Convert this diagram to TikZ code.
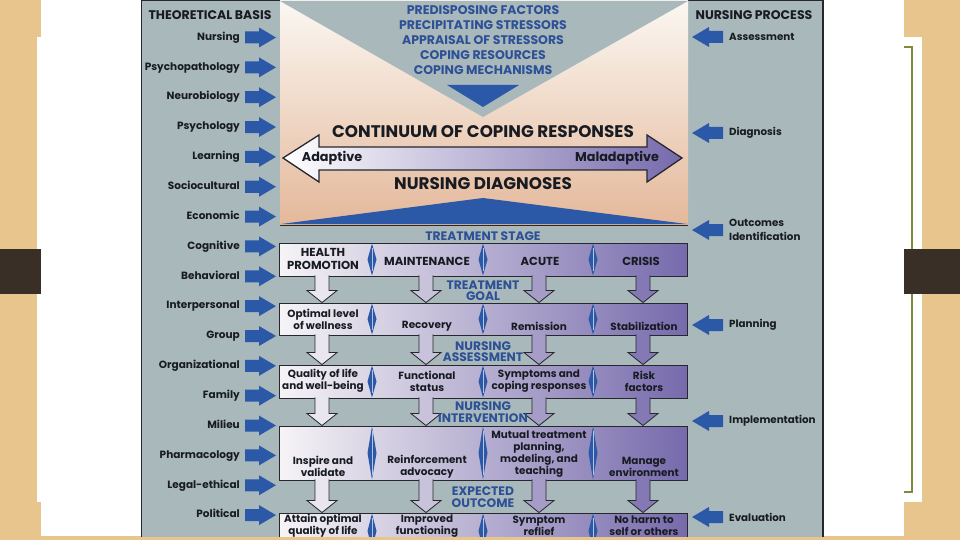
\documentclass[tikz,border=0pt]{standalone}
\usepackage{fontspec}
\setmainfont{Poppins}
\usepackage{tikz}
\usetikzlibrary{positioning,calc}
\definecolor{cWood}{RGB}{232,197,140}
\definecolor{cBand}{RGB}{58,47,39}
\definecolor{cFrame}{RGB}{125,139,60}
\definecolor{cPanel}{RGB}{168,184,187}
\definecolor{cEdge}{RGB}{38,40,46}
\definecolor{cBlue}{RGB}{44,88,168}
\definecolor{cLabel}{RGB}{46,80,150}
\definecolor{cPeachT}{RGB}{251,247,242}
\definecolor{cPeachB}{RGB}{228,184,154}
\definecolor{cRowL}{RGB}{246,244,246}
\definecolor{cRowR}{RGB}{118,106,172}
\definecolor{cText}{RGB}{24,27,34}

\begin{document}
\begin{tikzpicture}[x=1pt,y=-1pt,
   basis/.style={anchor=east,inner sep=0pt,text height=8pt,text depth=2.5pt,font=\fontsize{10.5}{12}\selectfont\bfseries,text=cText},
   proc/.style={anchor=west,inner sep=0pt,align=left,font=\fontsize{10.3}{14.5}\selectfont\bfseries,text=cText},
   head/.style={inner sep=0pt,font=\fontsize{12.5}{14}\selectfont\bfseries,text=cText},
   factor/.style={inner sep=0pt,font=\fontsize{12.5}{14}\selectfont\bfseries,text=cLabel},
   big/.style={inner sep=0pt,font=\fontsize{16.8}{18}\selectfont\bfseries,text=cText},
   tip/.style={inner sep=0pt,font=\fontsize{12.8}{14}\selectfont\bfseries,text=cText},
   row/.style={draw=cEdge,line width=0.9pt,left color=cRowL,right color=cRowR,minimum width=408pt,inner sep=0pt},
   cell/.style={align=center,inner sep=0pt,font=\fontsize{10.4}{12}\selectfont\bfseries,text=cText},
   caps/.style={cell,font=\fontsize{11.6}{12.5}\selectfont\bfseries},
   stage/.style={align=center,inner sep=0pt,font=\fontsize{12.3}{11.5}\selectfont\bfseries,text=cLabel},
   pics/rarr/.style={code={\fill[cBlue] (0,-6) -- (14,-6) -- (14,-10) -- (31,0) -- (14,10) -- (14,6) -- (0,6) -- cycle;}},
   pics/larr/.style={code={\fill[cBlue] (0,-6) -- (-14,-6) -- (-14,-10) -- (-31,0) -- (-14,10) -- (-14,6) -- (0,6) -- cycle;}}]
  \useasboundingbox (0,0) rectangle (960,540);
  % slide behind the picture
  \fill[cWood] (0,0) rectangle (960,540);
  \fill[white] (37,37) rectangle (922,502);
  \draw[cFrame,line width=1.6pt] (60,47) rectangle (912,492);
  \fill[cBand] (0,249) rectangle (41,294);
  \fill[cBand] (904,249) rectangle (960,294);
  \fill[white] (41,0) rectangle (904,536);
  \begin{scope}
    \clip (141,0) rectangle (824,536);
    \draw[cEdge,line width=1.2pt,fill=cPanel] (141,0.6) rectangle (823,560);
    % coping area
    \fill[top color=cPeachT,bottom color=cPeachB] (280,1) rectangle (688,225);
    \fill[cPanel] (280,1) -- (688,1) -- (483,117) -- cycle;
    \fill[cBlue] (447,85) -- (519,85) -- (483,107) -- cycle;
    \fill[cBlue] (281,224) -- (483,198) -- (687,224) -- cycle;
    \draw[cEdge,line width=1pt] (280,225) -- (688,225);
    \foreach \t [count=\i] in {PREDISPOSING FACTORS,PRECIPITATING STRESSORS,APPRAISAL OF STRESSORS,COPING RESOURCES,COPING MECHANISMS}
      \node[factor] (f\i) at (483,{-5+15*\i}) {\t};
    \node[big] (cont) at (483,132) {CONTINUUM OF COPING RESPONSES};
    \draw[cEdge,line width=1.3pt,left color=white,right color=cRowR]
      (283,158) -- (319,135) -- (319,147) -- (647,147) -- (647,135) -- (682,158)
      -- (647,182) -- (647,170) -- (319,170) -- (319,182) -- cycle;
    \node[tip] (adp) at (332,158) {Adaptive};
    \node[tip] (mal) at (617,158) {Maladaptive};
    \node[big] (diag) at (483,184) {NURSING DIAGNOSES};
    % theoretical basis
    \node[head] (tb) at (210,15) {THEORETICAL BASIS};
    \foreach \t [count=\i from 0] in {Nursing,Psychopathology,Neurobiology,Psychology,Learning,Sociocultural,Economic,Cognitive,Behavioral,Interpersonal,Group,Organizational,Family,Milieu,Pharmacology,Legal-ethical,Political}{
      \node[basis] (b\i) at (240,{37.5+29.85*\i}) {\t};
      \pic at ([xshift=5pt]b\i.east) {rarr};
    }
    % nursing process
    \node[head] (np) at (754,15) {NURSING PROCESS};
    \foreach \t/\y [count=\i] in {Assessment/37,Diagnosis/133,{Outcomes\\Identification}/230,Planning/325,Implementation/421,Evaluation/517}{
      \node[proc] (p\i) at (729,\y) {\t};
      \pic at ([xshift=-6pt]p\i.west) {larr};
    }
    % treatment rows
    \node[row,minimum height=33pt] (r1) at (483.5,259.5) {};
    \node[row,minimum height=32pt] (r2) at (483.5,319) {};
    \node[row,minimum height=33pt] (r3) at (483.5,381.5) {};
    \node[row,minimum height=54pt] (r4) at (483.5,453) {};
    \node[row,minimum height=36pt] (r5) at (483.5,531) {};
    \foreach \x [count=\i] in {322,426,539,643} \coordinate (c\i) at (\x,0);
    \foreach \x [count=\i] in {372,483,593} \coordinate (d\i) at (\x,0);
    \foreach \r in {1,...,5}
      \foreach \d in {1,2,3}{
        \path (d\d |- r\r.north) coordinate (t) (d\d |- r\r.south) coordinate (b);
        \fill[cBlue] ($(t)+(0,1)$) -- ($(t)!0.5!(b)+(4.5,0)$) -- ($(b)+(0,-1)$) -- ($(t)!0.5!(b)+(-4.5,0)$) -- cycle;
        \draw[cBlue!35!white,line width=0.5pt] ($(t)+(0,5)$) -- ($(b)+(0,-5)$);
      }
    \foreach \a/\b in {1/2,2/3,3/4,4/5}
      \foreach \c/\m in {1/10,2/36,3/63,4/89}
        \filldraw[draw=cEdge,line width=0.8pt,fill=cRowR!\m!cRowL]
          ($(c\c |- r\a.south)+(-7,-1)$) -- ($(c\c |- r\b.north)+(-7,-12)$) -- ($(c\c |- r\b.north)+(-15,-12)$)
          -- (c\c |- r\b.north) -- ($(c\c |- r\b.north)+(15,-12)$) -- ($(c\c |- r\b.north)+(7,-12)$)
          -- ($(c\c |- r\a.south)+(7,-1)$);
    % stage labels
    \node[stage] (ls) at (483,236) {TREATMENT STAGE};
    \node[stage] (lg) at (483,290.5) {TREATMENT\\GOAL};
    \node[stage] (la) at (483,351.5) {NURSING\\ASSESSMENT};
    \node[stage] (li) at (483,412) {NURSING\\INTERVENTION};
    \node[stage] (lo) at (483,497) {EXPECTED\\OUTCOME};
    % row texts
    \node[caps] (s1) at (323,259) {HEALTH\\PROMOTION};
    \node[caps] (s2) at (427,261) {MAINTENANCE};
    \node[caps] (s3) at (540,261) {ACUTE};
    \node[caps] (s4) at (641,261) {CRISIS};
    \node[cell] (g1) at (323,319.5) {Optimal level\\of wellness};
    \node[cell] (g2) at (427,326) {Recovery};
    \node[cell] (g3) at (539,326) {Remission};
    \node[cell] (g4) at (644,326) {Stabilization};
    \node[cell] (a1) at (323,381) {Quality of life\\and well-being};
    \node[cell] (a2) at (427,381) {Functional\\status};
    \node[cell] (a3) at (539,381) {Symptoms and\\coping responses};
    \node[cell] (a4) at (644,381) {Risk\\factors};
    \node[cell] (i1) at (323,466.5) {Inspire and\\validate};
    \node[cell] (i2) at (427,466.5) {Reinforcement\\advocacy};
    \node[cell] (i3) at (539,454) {Mutual treatment\\planning,\\modeling, and\\teaching};
    \node[cell] (i4) at (644,466.5) {Manage\\environment};
    \node[cell] (o1) at (323,526) {Attain optimal\\quality of life};
    \node[cell] (o2) at (427,526) {Improved\\functioning};
    \node[cell] (o3) at (539,526) {Symptom\\reflief};
    \node[cell] (o4) at (644,526) {No harm to\\self or others};
  \end{scope}
\end{tikzpicture}
\end{document}
